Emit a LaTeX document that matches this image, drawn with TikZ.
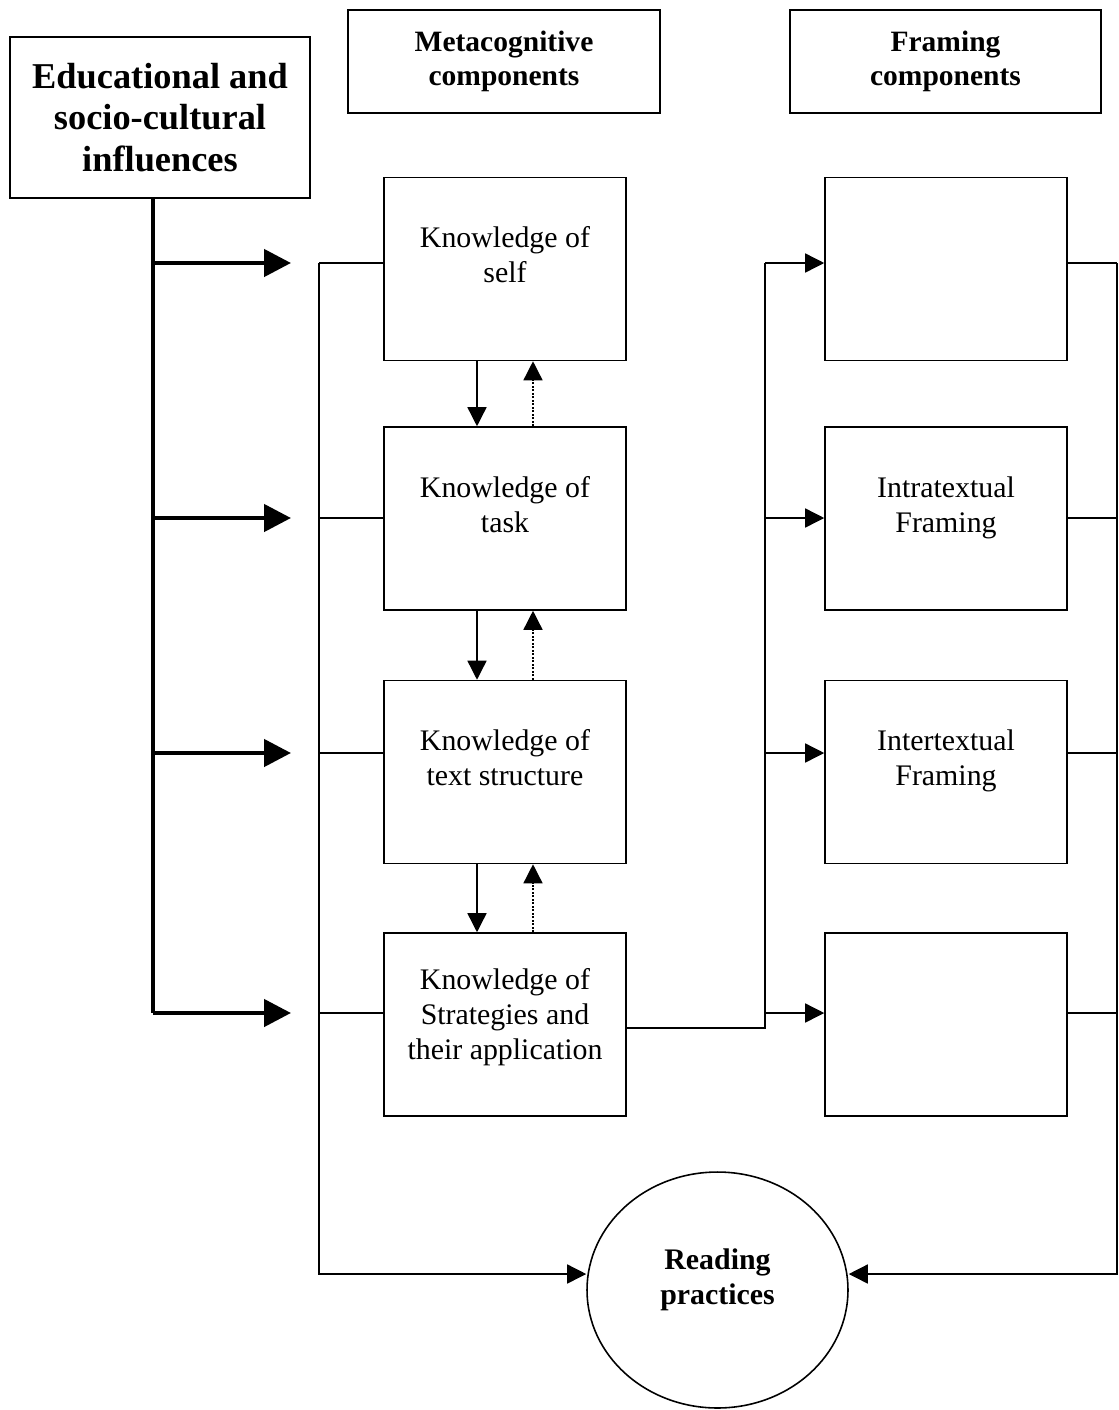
\documentclass[tikz,border=0pt]{standalone}
\usepackage{fontspec}
\setmainfont{Liberation Serif}
\usetikzlibrary{arrows.meta, calc, positioning, shapes.geometric}

\begin{document}
\begin{tikzpicture}[x=0.02cm, y=-0.02cm,
	kbox/.style={draw, line width=0.9pt, minimum width=4.84cm, minimum height=3.66cm, inner ysep=0pt, text height=2.1cm, text depth=1.56cm, align=center, font=\fontsize{17}{19.8}\selectfont},
	hbox/.style={draw, line width=0.9pt, minimum height=2.06cm, align=center, font=\bfseries\fontsize{16.8}{19.3}\selectfont},
	conn/.style={line width=0.8pt},
	tip/.style={-{Triangle[length=0.38cm, width=0.38cm]}},
	bus/.style={line width=2.6pt},
	bigtip/.style={-{Triangle[length=0.54cm, width=0.54cm]}}]
	\useasboundingbox (0,0) rectangle (1119,1410);

	% headings
	\node[hbox, minimum width=6cm, minimum height=3.22cm, font=\bfseries\fontsize{20.7}{23.8}\selectfont] (edu) at (160,117.5) {Educational and\\socio-cultural\\influences};
	\node[hbox, minimum width=6.24cm] (meta) at (504,61.5) {Metacognitive\\components};
	\node[hbox, minimum width=6.22cm] (fram) at (945.5,61.5) {Framing\\components};

	% metacognitive column
	\node[kbox] (self) at (505,269) {Knowledge of\\self};
	\node[kbox] (task) at (505,518.5) {Knowledge of\\task};
	\node[kbox] (text) at (505,772) {Knowledge of\\text structure};
	\node[kbox, text height=2.52cm, text depth=1.14cm] (strat) at (505,1024.5) {Knowledge of\\Strategies and\\their application};

	% framing column
	\node[kbox] (fa) at (946,269) {};
	\node[kbox] (fb) at (946,518.5) {Intratextual\\Framing};
	\node[kbox] (fc) at (946,772) {Intertextual\\Framing};
	\node[kbox] (fd) at (946,1024.5) {};

	\node[draw, ellipse, line width=0.9pt, inner sep=0pt, minimum width=5.22cm, minimum height=4.72cm, text height=1cm, text depth=0.44cm, align=center, font=\bfseries\fontsize{17}{19.8}\selectfont] (read) at (717.5,1290) {Reading\\practices};

	% rails
	\coordinate (bus) at (153,1013);
	\coordinate (lrail) at (319,263);
	\coordinate (lbot) at (319,1274);
	\coordinate (mrail) at (765,263);
	\coordinate (rrail) at (1117,263);
	\coordinate (rbot) at (1117,1274);

	\draw[bus] (edu.south -| bus) -- (bus);
	\draw[conn, tip] (lrail) -- (lbot) -- (read.west |- lbot);
	\draw[conn, tip] (rrail) -- (rbot) -- (read.east |- rbot);
	\draw[conn] (mrail) -- (mrail |- 0,1028) -- (strat.east |- 0,1028);

	\foreach \y/\m/\f in {263/self/fa, 518/task/fb, 753/text/fc, 1013/strat/fd} {
		\draw[bus, bigtip] (bus |- 0,\y) -- (291,\y);
		\draw[conn] (lrail |- 0,\y) -- (\m.west |- 0,\y);
		\draw[conn, tip] (mrail |- 0,\y) -- (\f.west |- 0,\y);
		\draw[conn] (\f.east |- 0,\y) -- (rrail |- 0,\y);
	}

	% between the knowledge boxes
	\foreach \a/\b in {self/task, task/text, text/strat} {
		\draw[conn, tip] (\a.south -| 477,0) -- (\b.north -| 477,0);
		\draw[conn, tip, dash pattern=on 1pt off 1pt] (\b.north -| 533,0) -- (\a.south -| 533,0);
	}
\end{tikzpicture}
\end{document}
